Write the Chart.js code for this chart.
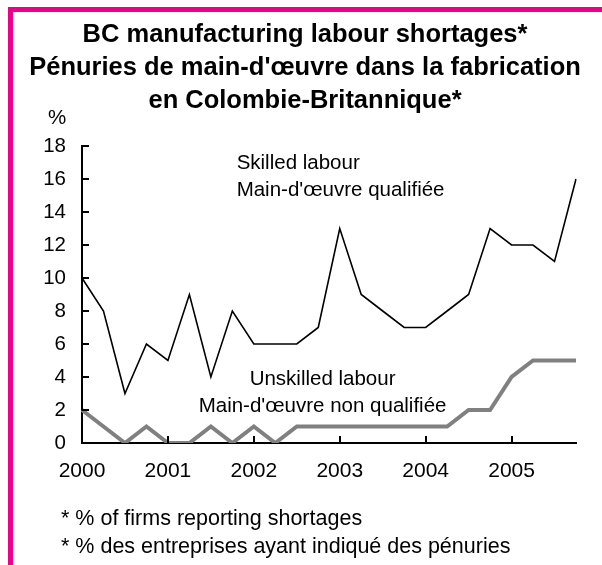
<!DOCTYPE html>
<html>
<head>
<meta charset="utf-8">
<script src="https://cdn.jsdelivr.net/npm/chart.js@4.4.0/dist/chart.umd.min.js"></script>
<style>
  html, body { margin: 0; padding: 0; background: #fff; }
  #wrap { position: relative; width: 602px; height: 565px; overflow: hidden; }
  #frame {
    position: absolute; left: 8px; top: 7px; right: 0; bottom: 0;
    border-top: 5px solid #ec008c; border-left: 5px solid #ec008c;
    pointer-events: none;
  }
</style>
</head>
<body>
<div id="wrap">
  <canvas id="labourChart" width="602" height="565"></canvas>
  <div id="frame"></div>
</div>
<script>
const years = ['2000', '2001', '2002', '2003', '2004', '2005'];
const quarters = ['Q1', 'Q2', 'Q3', 'Q4'];

// % of firms reporting shortages, quarterly 2000 Q1 - 2005 Q4
const skilled = [10, 8, 3, 6, 5, 9, 4, 8, 6, 6, 6, 7, 13, 9, 8, 7, 7, 8, 9, 13, 12, 12, 11, 16];
const unskilled = [2, 1, 0, 1, 0, 0, 1, 0, 1, 0, 1, 1, 1, 1, 1, 1, 1, 1, 2, 2, 4, 5, 5, 5];

const titleLines = [
  'BC manufacturing labour shortages*',
  "Pénuries de main-d'œuvre dans la fabrication",
  'en Colombie-Britannique*'
];
const skilledLabel = ['Skilled labour', "Main-d'œuvre qualifiée"];
const unskilledLabel = ['Unskilled labour', "Main-d'œuvre non qualifiée"];
const footnotes = ['* % of firms reporting shortages', '* % des entreprises ayant indiqué des pénuries'];

const categories = [];
years.forEach(y => quarters.forEach(q => categories.push(y + ' ' + q)));

const FONT = "'Liberation Sans', Arial, sans-serif";
Chart.defaults.font.family = FONT;
Chart.defaults.color = '#000';

// titles, notes, line labels and the inward tick marks
const extras = {
  id: 'extras',
  afterDraw(chart) {
    const ctx = chart.ctx;
    const x = chart.scales.x;
    const y = chart.scales.y;
    const area = chart.chartArea;
    ctx.save();

    // inward ticks
    ctx.strokeStyle = '#000';
    ctx.lineWidth = 2;
    ctx.beginPath();
    y.ticks.forEach(t => {
      const py = Math.round(y.getPixelForValue(t.value));
      ctx.moveTo(area.left, py);
      ctx.lineTo(area.left + 7, py);
    });
    for (let i = 4; i < categories.length; i += 4) {
      const px = Math.round(x.getPixelForValue(i));
      ctx.moveTo(px, area.bottom);
      ctx.lineTo(px, area.bottom - 7);
    }
    ctx.stroke();

    ctx.fillStyle = '#000';
    ctx.textBaseline = 'alphabetic';

    // title
    ctx.font = 'bold 25.5px ' + FONT;
    ctx.textAlign = 'center';
    titleLines.forEach((line, i) => ctx.fillText(line, 305, 42 + i * 33));

    ctx.font = '20.5px ' + FONT;
    ctx.textAlign = 'left';
    ctx.fillText('%', 48, 124);

    // series labels
    skilledLabel.forEach((line, i) => {
      ctx.fillText(line, x.getPixelForValue(7.2), y.getPixelForValue(16.6 - i * 1.65));
    });
    ctx.textAlign = 'center';
    unskilledLabel.forEach((line, i) => {
      ctx.fillText(line, x.getPixelForValue(11.2), y.getPixelForValue(3.5 - i * 1.65));
    });

    // footnotes
    ctx.font = '21.5px ' + FONT;
    ctx.textAlign = 'left';
    ctx.textBaseline = 'middle';
    footnotes.forEach((line, i) => ctx.fillText(line, 61, 519 + i * 28));

    ctx.restore();
  }
};

const ctx = document.getElementById('labourChart').getContext('2d');
const chart = new Chart(ctx, {
  type: 'line',
  data: {
    labels: categories,
    datasets: [
      {
        label: 'Skilled labour',
        data: skilled,
        borderColor: '#000',
        borderWidth: 1.6,
        pointRadius: 0,
        tension: 0,
        fill: false
      },
      {
        label: 'Unskilled labour',
        data: unskilled,
        borderColor: '#808080',
        borderWidth: 4,
        pointRadius: 0,
        tension: 0,
        fill: false
      }
    ]
  },
  options: {
    responsive: false,
    animation: false,
    layout: { padding: { top: 146, left: 0, right: 26, bottom: 82 } },
    plugins: {
      legend: { display: false },
      title: { display: false },
      tooltip: { enabled: false }
    },
    scales: {
      x: {
        offset: false,
        grid: { display: false, drawTicks: false },
        border: { display: true, color: '#000', width: 2 },
        ticks: {
          autoSkip: false,
          maxRotation: 0,
          padding: 16,
          font: { size: 21 },
          callback: (val, i) => (i % 4 === 0 ? years[i / 4] : '')
        },
        afterFit: scale => { scale.height = 40; }
      },
      y: {
        min: 0,
        max: 18,
        grid: { display: false, drawTicks: false },
        border: { display: true, color: '#000', width: 2 },
        ticks: { stepSize: 2, padding: 16, font: { size: 20.5 } },
        afterFit: scale => { scale.width = 82; }
      }
    }
  },
  plugins: [extras]
});
</script>
</body>
</html>
